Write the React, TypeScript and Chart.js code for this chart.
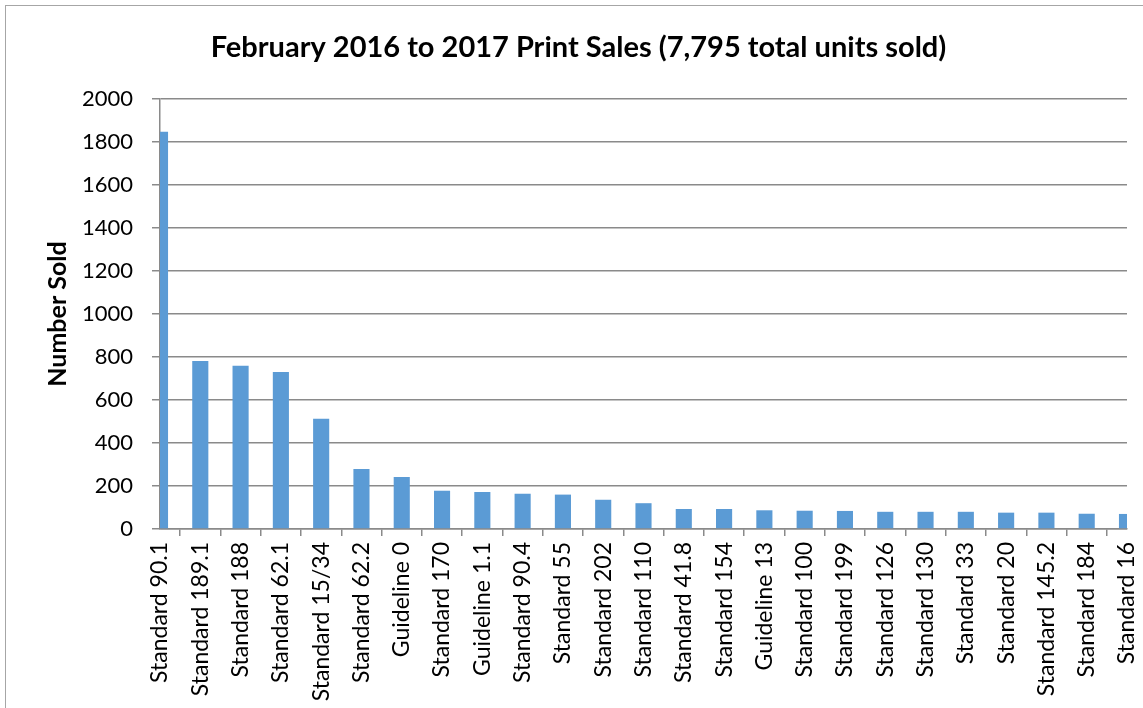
import React, { useEffect, useRef } from "react";
import { Chart, registerables } from "chart.js";

Chart.register(...registerables);

const categories: string[] = [
  "Standard 90.1", "Standard 189.1", "Standard 188", "Standard 62.1", "Standard 15/34",
  "Standard 62.2", "Guideline 0", "Standard 170", "Guideline 1.1", "Standard 90.4",
  "Standard 55", "Standard 202", "Standard 110", "Standard 41.8", "Standard 154",
  "Guideline 13", "Standard 100", "Standard 199", "Standard 126", "Standard 130",
  "Standard 33", "Standard 20", "Standard 145.2", "Standard 184", "Standard 16",
];

const numberSold: number[] = [
  1848, 781, 759, 730, 513,
  279, 242, 178, 172, 164,
  160, 136, 120, 93, 93,
  87, 85, 84, 80, 80,
  80, 76, 76, 71, 70,
];

const chartTitle = "February 2016 to 2017 Print Sales (7,795 total units sold)";
const yAxisTitle = "Number Sold";
const yMin = 0;
const yMax = 2000;
const yStep = 200;

const FONT = "Lato, 'Open Sans', sans-serif";
const GRID = "#8a8a8a";

export default function App() {
  const canvasRef = useRef<HTMLCanvasElement | null>(null);

  useEffect(() => {
    const canvas = canvasRef.current;
    if (!canvas) return;
    const chart = new Chart(canvas, {
      type: "bar",
      data: {
        labels: categories,
        datasets: [
          {
            label: yAxisTitle,
            data: numberSold,
            backgroundColor: "#5B9BD5",
            borderWidth: 0,
            barPercentage: 0.5,
            categoryPercentage: 0.8,
          },
        ],
      },
      options: {
        responsive: false,
        animation: false,
        devicePixelRatio: 1,
        layout: { padding: { left: 30, right: 16, top: 0, bottom: 0 } },
        plugins: {
          legend: { display: false },
          tooltip: { enabled: false },
          title: {
            display: true,
            text: chartTitle,
            color: "#000",
            font: { family: FONT, size: 29, weight: "bold", lineHeight: 1.2 },
            padding: { top: 30, bottom: 34.2 },
          },
        },
        scales: {
          x: {
            type: "category",
            offset: false,
            grid: {
              display: true,
              drawOnChartArea: false,
              drawTicks: true,
              tickLength: 7,
              color: GRID,
              lineWidth: 1.5,
            },
            border: { display: true, color: GRID, width: 1.5 },
            ticks: {
              autoSkip: false,
              minRotation: 90,
              maxRotation: 90,
              padding: 6,
              color: "#000",
              font: { family: FONT, size: 23 },
            },
            afterFit: (scale: any) => {
              scale.height = 179;
              scale.paddingLeft = 0;
              scale.paddingRight = 0;
            },
          },
          y: {
            min: yMin,
            max: yMax,
            grid: {
              display: true,
              drawTicks: true,
              tickLength: 8,
              color: GRID,
              lineWidth: 1.5,
            },
            border: { display: true, color: GRID, width: 1.5 },
            ticks: {
              stepSize: yStep,
              padding: 19,
              color: "#000",
              font: { family: FONT, size: 22 },
              callback: (value: any) => String(value),
            },
            title: {
              display: true,
              text: yAxisTitle,
              color: "#000",
              font: { family: FONT, size: 25, weight: "bold", lineHeight: 1.2 },
              padding: { top: 13, bottom: 0 },
            },
            afterFit: (scale: any) => {
              scale.width = 130;
              scale.paddingTop = 0;
              scale.paddingBottom = 0;
            },
          },
        },
      },
    });
    return () => chart.destroy();
  }, []);

  return (
    <div
      style={{
        position: "fixed",
        left: 0,
        top: 0,
        width: 1143,
        height: 708,
        overflow: "hidden",
        background: "#fff",
      }}
    >
      <div
        style={{
          position: "absolute",
          left: 5,
          top: 5,
          width: 1200,
          height: 800,
          border: "1.5px solid #a6a6a6",
          boxSizing: "border-box",
        }}
      />
      <canvas
        ref={canvasRef}
        width={1143}
        height={708}
        style={{ position: "absolute", left: 0, top: 0, width: 1143, height: 708 }}
      />
    </div>
  );
}
